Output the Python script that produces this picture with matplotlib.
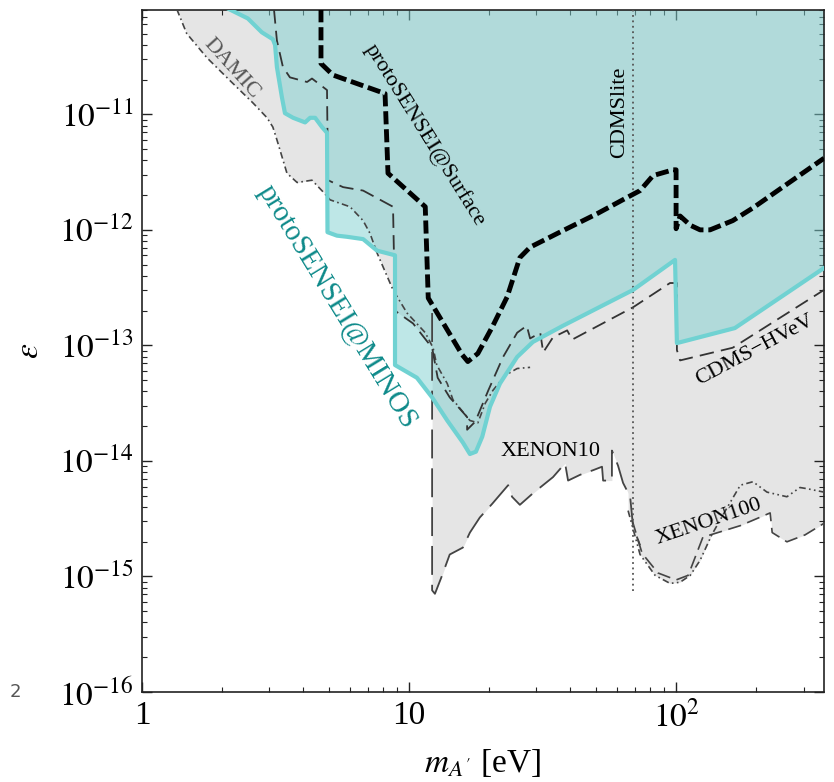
import numpy as np
import matplotlib.pyplot as plt

plt.rcParams['font.family'] = ['Liberation Serif', 'DejaVu Serif']
plt.rcParams['mathtext.fontset'] = 'stix'

# dark photon mass in eV, kinetic mixing as log10(epsilon)
minos_m = [2.12, 2.49, 2.81, 3.09, 3.15, 3.20, 3.34, 3.43, 3.68, 4.08, 4.26, 4.45, 4.72, 4.93,
           4.95, 5.37, 5.86, 6.73, 7.59, 8.86, 8.86, 10.7, 12.2, 13.9, 15.9, 16.9, 17.8, 18.8,
           20.1, 21.9, 25.4, 29.1, 37.7, 69.0, 99.1, 100.7, 166, 358]
minos_le = [-10.09, -10.17, -10.29, -10.35, -10.40, -10.59, -10.85, -10.99, -11.03, -11.07, -11.03, -11.03, -11.11, -11.16,
            -12.02, -12.05, -12.06, -12.08, -12.18, -12.22, -13.17, -13.28, -13.45, -13.65, -13.84, -13.94, -13.92, -13.79,
            -13.53, -13.33, -13.10, -12.97, -12.83, -12.52, -12.26, -12.98, -12.85, -12.33]

surface_m = [4.68, 4.68, 5.19, 8.13, 8.34, 11.5, 11.8, 15.8, 16.6, 18.1, 20.5, 23.3, 26.0, 28.4,
             36.7, 50.6, 65.5, 73.3, 82.0, 97.5, 100, 100, 103.5, 113, 123, 134, 163, 194, 358]
surface_le = [-10.09, -10.56, -10.66, -10.82, -11.51, -11.80, -12.59, -13.08, -13.14, -13.07, -12.84, -12.58, -12.24, -12.15,
              -12.02, -11.86, -11.72, -11.66, -11.53, -11.48, -11.48, -11.99, -11.88, -11.96, -12.00, -12.00, -11.92, -11.81, -11.38]

hvev_m = [3.12, 3.20, 3.37, 3.58, 4.15, 4.33, 4.93, 4.97, 5.66, 6.73, 8.71, 8.86, 10.35, 12.2, 12.8, 14.2,
          16.5, 16.5, 17.7, 19.8, 22.5, 25.4, 27.6, 28.4, 31.0, 31.8, 34.6, 39.1, 40.8, 69.0, 94.9,
          100.7, 100.7, 103.5, 163, 358]
hvev_le = [-10.09, -10.36, -10.59, -10.68, -10.72, -10.69, -10.79, -11.57, -11.63, -11.66, -11.80, -12.70, -12.81, -13.02, -13.28, -13.45,
           -13.62, -13.73, -13.66, -13.39, -13.10, -12.89, -12.83, -12.94, -12.89, -13.06, -12.93, -12.87, -12.95, -12.67, -12.46,
           -12.46, -13.04, -13.13, -13.02, -12.52]

damic_m = [1.35, 1.47, 1.75, 2.14, 2.60, 2.94, 3.09, 3.20, 3.49, 3.81, 4.33, 4.76, 5.06, 6.01, 6.73, 7.14,
           7.59, 8.71, 9.83, 11.5, 12.3, 12.7, 13.9, 14.6, 16.9, 18.1, 19.3, 20.6, 22.9, 25.4, 28.4]
damic_le = [-10.09, -10.30, -10.51, -10.71, -10.90, -11.03, -11.11, -11.22, -11.51, -11.59, -11.57, -11.67, -11.74, -11.80, -11.92, -12.03,
            -12.20, -12.52, -12.72, -12.89, -13.02, -13.17, -13.33, -13.47, -13.65, -13.67, -13.50, -13.39, -13.26, -13.20, -13.19]

xenon10_m = [12.2, 12.2, 12.5, 13.2, 14.2, 15.9, 16.9, 18.4, 20.5, 23.5, 24.3, 26.0, 29.1, 34.6, 38.4, 39.4,
             43.7, 48.9, 52.8, 53.3, 57.5, 57.5, 60.6, 63.3, 67.3, 69.0, 73.3]
xenon10_le = [-12.72, -15.12, -15.15, -15.01, -14.81, -14.75, -14.62, -14.49, -14.37, -14.21, -14.31, -14.38, -14.28, -14.14, -14.02, -14.17,
              -14.12, -14.08, -14.05, -14.17, -14.17, -13.91, -14.04, -14.19, -14.31, -14.57, -14.73]

xenon100a_m = [66.1, 73.3, 83.4, 94.9, 103.5, 113, 123, 136, 153, 174, 194, 219, 260, 291, 309, 358]
xenon100a_le = [-14.43, -14.81, -14.99, -15.06, -15.05, -14.99, -14.86, -14.64, -14.43, -14.21, -14.18, -14.27, -14.31, -14.23, -14.24, -14.27]

xenon100b_m = [68.4, 74.6, 85.6, 100, 111, 126, 174, 225, 229, 260, 304, 358]
xenon100b_le = [-14.51, -14.80, -14.97, -15.03, -14.99, -14.66, -14.56, -14.45, -14.62, -14.70, -14.64, -14.54]

cdmslite_m = [69.0, 69.0]
cdmslite_le = [-15.13, -10.09]

xmin, xmax = 1, 358
ymin, ymax = 1e-16, 8e-11
top = 1e-9

fig = plt.figure(figsize=(8.34, 7.82), dpi=100)
ax = fig.add_axes([142/834, 90/782, 682/834, 682/782])

gray = '#e5e5e5'
for m, le in [(damic_m, damic_le), (hvev_m, hvev_le), (xenon10_m, xenon10_le),
              (xenon100a_m, xenon100a_le), (xenon100b_m, xenon100b_le)]:
    ax.fill_between(m, 10.0 ** np.array(le), top, color=gray, lw=0, zorder=1)

ax.fill_between(minos_m, 10.0 ** np.array(minos_le), top, color='#7fd1d1', alpha=0.5, lw=0, zorder=2)

ax.plot(damic_m, 10.0 ** np.array(damic_le), color='#444444', lw=1.2, dashes=(4, 2, 1, 2), zorder=3)
ax.plot(hvev_m, 10.0 ** np.array(hvev_le), color='#333333', lw=1.3, dashes=(8, 4), zorder=3)
ax.plot(xenon10_m, 10.0 ** np.array(xenon10_le), color='#444444', lw=1.3, dashes=(16, 5.5), zorder=3)
ax.plot(xenon100a_m, 10.0 ** np.array(xenon100a_le), color='#444444', lw=1.2, dashes=(4, 2, 1, 2, 1, 2), zorder=3)
ax.plot(xenon100b_m, 10.0 ** np.array(xenon100b_le), color='#444444', lw=1.2, dashes=(8, 4), zorder=3)
ax.plot(cdmslite_m, 10.0 ** np.array(cdmslite_le), color='#555555', lw=1.3, dashes=(1, 2), zorder=3)
ax.plot(minos_m, 10.0 ** np.array(minos_le), color='#70d2d2', lw=3, zorder=4)
ax.plot(surface_m, 10.0 ** np.array(surface_le), color='black', lw=3.5, dashes=(2.7, 1.0), zorder=5)

ax.text(2.17, 10**-10.60, 'DAMIC', rotation=-48, color='#555555', fontsize=16, ha='center', va='center', zorder=6)
ax.text(11.5, 10**-11.18, 'protoSENSEI@Surface', rotation=-58, color='black', fontsize=16, ha='center', va='center', zorder=6)
ax.text(61.7, 10**-10.98, 'CDMSlite', rotation=90, color='black', fontsize=16, ha='center', va='center', zorder=6)
ax.text(5.37, 10**-12.67, 'protoSENSEI@MINOS', rotation=-58.5, color='#0e8a8a', fontsize=21, ha='center', va='center', zorder=6)
ax.text(198, 10**-13.04, 'CDMS\u2212HVeV', rotation=28, color='black', fontsize=16, ha='center', va='center', zorder=6)
ax.text(34.0, 10**-13.92, 'XENON10', rotation=0, color='black', fontsize=16, ha='center', va='center', zorder=6)
ax.text(132, 10**-14.53, 'XENON100', rotation=18.7, color='black', fontsize=16, ha='center', va='center', zorder=6)

ax.set_xscale('log')
ax.set_yscale('log')
ax.set_xlim(xmin, xmax)
ax.set_ylim(ymin, ymax)

ax.set_xticks([1, 10, 100])
ax.set_xticklabels(['1', '10', '$10^2$'])
yt = [1e-16, 1e-15, 1e-14, 1e-13, 1e-12, 1e-11]
ax.set_yticks(yt)
ax.set_yticklabels([r'$10^{%d}$' % int(np.log10(v)) for v in yt])
ax.xaxis.set_minor_locator(plt.LogLocator(base=10, subs=np.arange(2, 10)))
ax.yaxis.set_minor_locator(plt.LogLocator(base=10, subs=np.arange(2, 10), numticks=20))
ax.xaxis.set_minor_formatter(plt.NullFormatter())
ax.yaxis.set_minor_formatter(plt.NullFormatter())

ax.tick_params(which='both', direction='in', top=True, right=True, colors='#222222', labelcolor='black')
ax.tick_params(which='major', length=7, width=1.0, labelsize=24, pad=6)
ax.tick_params(which='minor', length=3.5, width=0.8)
for s in ax.spines.values():
    s.set_linewidth(1.2)
    s.set_color('#222222')

ax.set_xlabel(r"$m_{A'}$ [eV]", fontsize=24, labelpad=10)
ax.set_ylabel(r'$\epsilon$', fontsize=24, labelpad=10)

fig.text(15/834, 1 - 692/782, '2', ha='center', va='center', fontsize=13,
         color='#555555', family='DejaVu Sans')

fig.savefig('out.png', dpi=100)
